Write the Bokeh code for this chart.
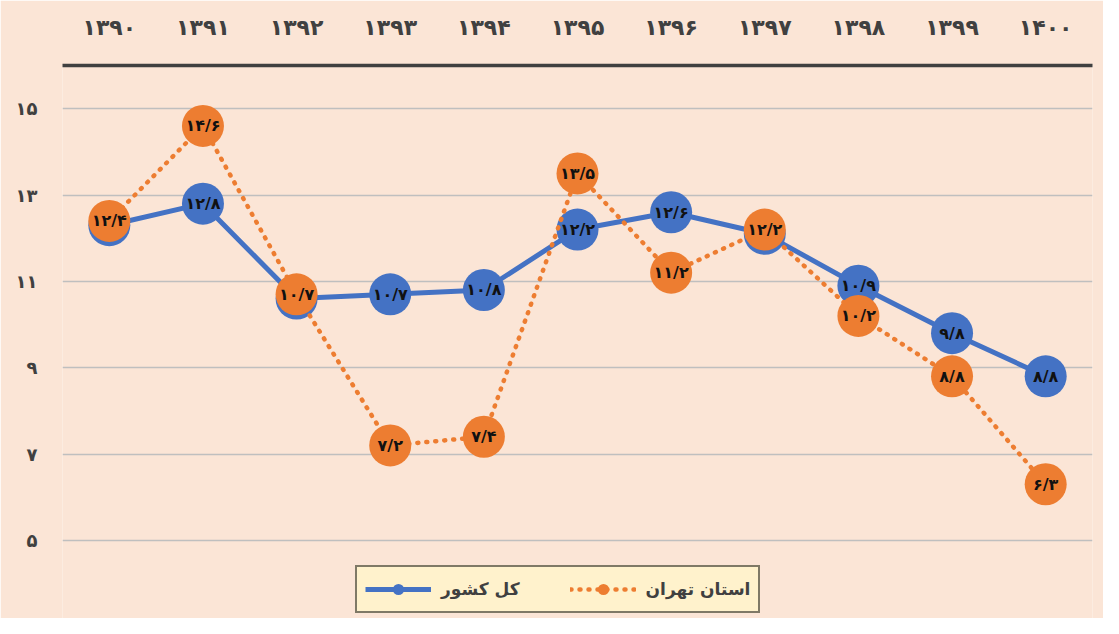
from bokeh.plotting import figure
from bokeh.models import FactorRange, Range1d, FixedTicker, ColumnDataSource, Legend, LegendItem
from bokeh.core.properties import value
from bokeh.embed import file_html
from bokeh.resources import INLINE

# ---- data ----
years = ["1390", "1391", "1392", "1393", "1394", "1395", "1396", "1397", "1398", "1399", "1400"]
country = [12.3, 12.8, 10.6, 10.7, 10.8, 12.2, 12.6, 12.1, 10.9, 9.8, 8.8]
tehran = [12.4, 14.6, 10.7, 7.2, 7.4, 13.5, 11.2, 12.2, 10.2, 8.8, 6.3]
y_ticks = [5, 7, 9, 11, 13, 15]
series_names = ["کل کشور", "استان تهران"]

FA = str.maketrans("0123456789.", "۰۱۲۳۴۵۶۷۸۹/")


def fa(v):
    return str(v).translate(FA)


year_labels = [fa(y) for y in years]

BG = "#FBE5D6"
BLUE = "#4472C4"
ORANGE = "#ED7D31"
FONT = "DejaVu Sans"

# frame extends to the bottom of the figure so the legend is not clipped;
# the value 5 still sits where the reference's bottom gridline is
p = figure(
    x_range=FactorRange(*year_labels),
    y_range=Range1d(3.19, 16),
    width=1103, height=618,
    output_backend="svg", toolbar_location=None,
    x_axis_location="above",
    min_border_left=62, min_border_right=11, min_border_top=65, min_border_bottom=0,
)
p.background_fill_color = BG
p.border_fill_color = BG
p.outline_line_color = None

# top axis
xa = p.xaxis[0]
xa.axis_line_color = "#404040"
xa.axis_line_width = 3.5
xa.major_tick_line_color = None
xa.minor_tick_line_color = None
xa.major_label_text_font = FONT
xa.major_label_text_font_style = "bold"
xa.major_label_text_font_size = "22px"
xa.major_label_text_color = "#404040"
xa.major_label_standoff = 20

# left axis
ya = p.yaxis[0]
ya.ticker = FixedTicker(ticks=y_ticks)
ya.major_label_overrides = {t: fa(t) for t in y_ticks}
ya.axis_line_color = None
ya.major_tick_line_color = None
ya.minor_tick_line_color = None
ya.major_label_text_font = FONT
ya.major_label_text_font_style = "bold"
ya.major_label_text_font_size = "18px"
ya.major_label_text_color = "#404040"
ya.major_label_standoff = 19

p.xgrid.grid_line_color = None
p.ygrid.ticker = FixedTicker(ticks=y_ticks)
p.ygrid.grid_line_color = "#BFBFBF"
p.ygrid.grid_line_width = 1.5

src = ColumnDataSource(dict(
    x=year_labels, c=country, t=tehran,
    cl=[fa(v) for v in country], tl=[fa(v) for v in tehran],
))

bl = p.line("x", "c", source=src, line_color=BLUE, line_width=5)
bm = p.scatter("x", "c", source=src, size=42, fill_color=BLUE, line_color=None)
p.text("x", "c", text="cl", source=src, text_align="center", text_baseline="middle",
       text_font=value(FONT), text_font_style="bold", text_font_size="16px", text_color="#111111")

ol = p.line("x", "t", source=src, line_color=ORANGE, line_width=4.5, line_dash="1 8", line_cap="round")
om = p.scatter("x", "t", source=src, size=42, fill_color=ORANGE, line_color=None)
p.text("x", "t", text="tl", source=src, text_align="center", text_baseline="middle",
       text_font=value(FONT), text_font_style="bold", text_font_size="16px", text_color="#111111")

legend = Legend(
    items=[LegendItem(label=series_names[0], renderers=[bl, bm]),
           LegendItem(label=series_names[1], renderers=[ol, om])],
    orientation="horizontal",
    location=(293, 5),
    glyph_width=66, glyph_height=28,
    label_standoff=10, spacing=50, padding=8, margin=0,
    label_text_font=FONT, label_text_font_style="bold", label_text_font_size="17px",
    label_text_color="#404040",
    border_line_color="black", border_line_width=2,
    background_fill_color="#FFF2CC", background_fill_alpha=1,
)
p.add_layout(legend, "center")

open("out.html", "w").write(file_html(p, INLINE))
